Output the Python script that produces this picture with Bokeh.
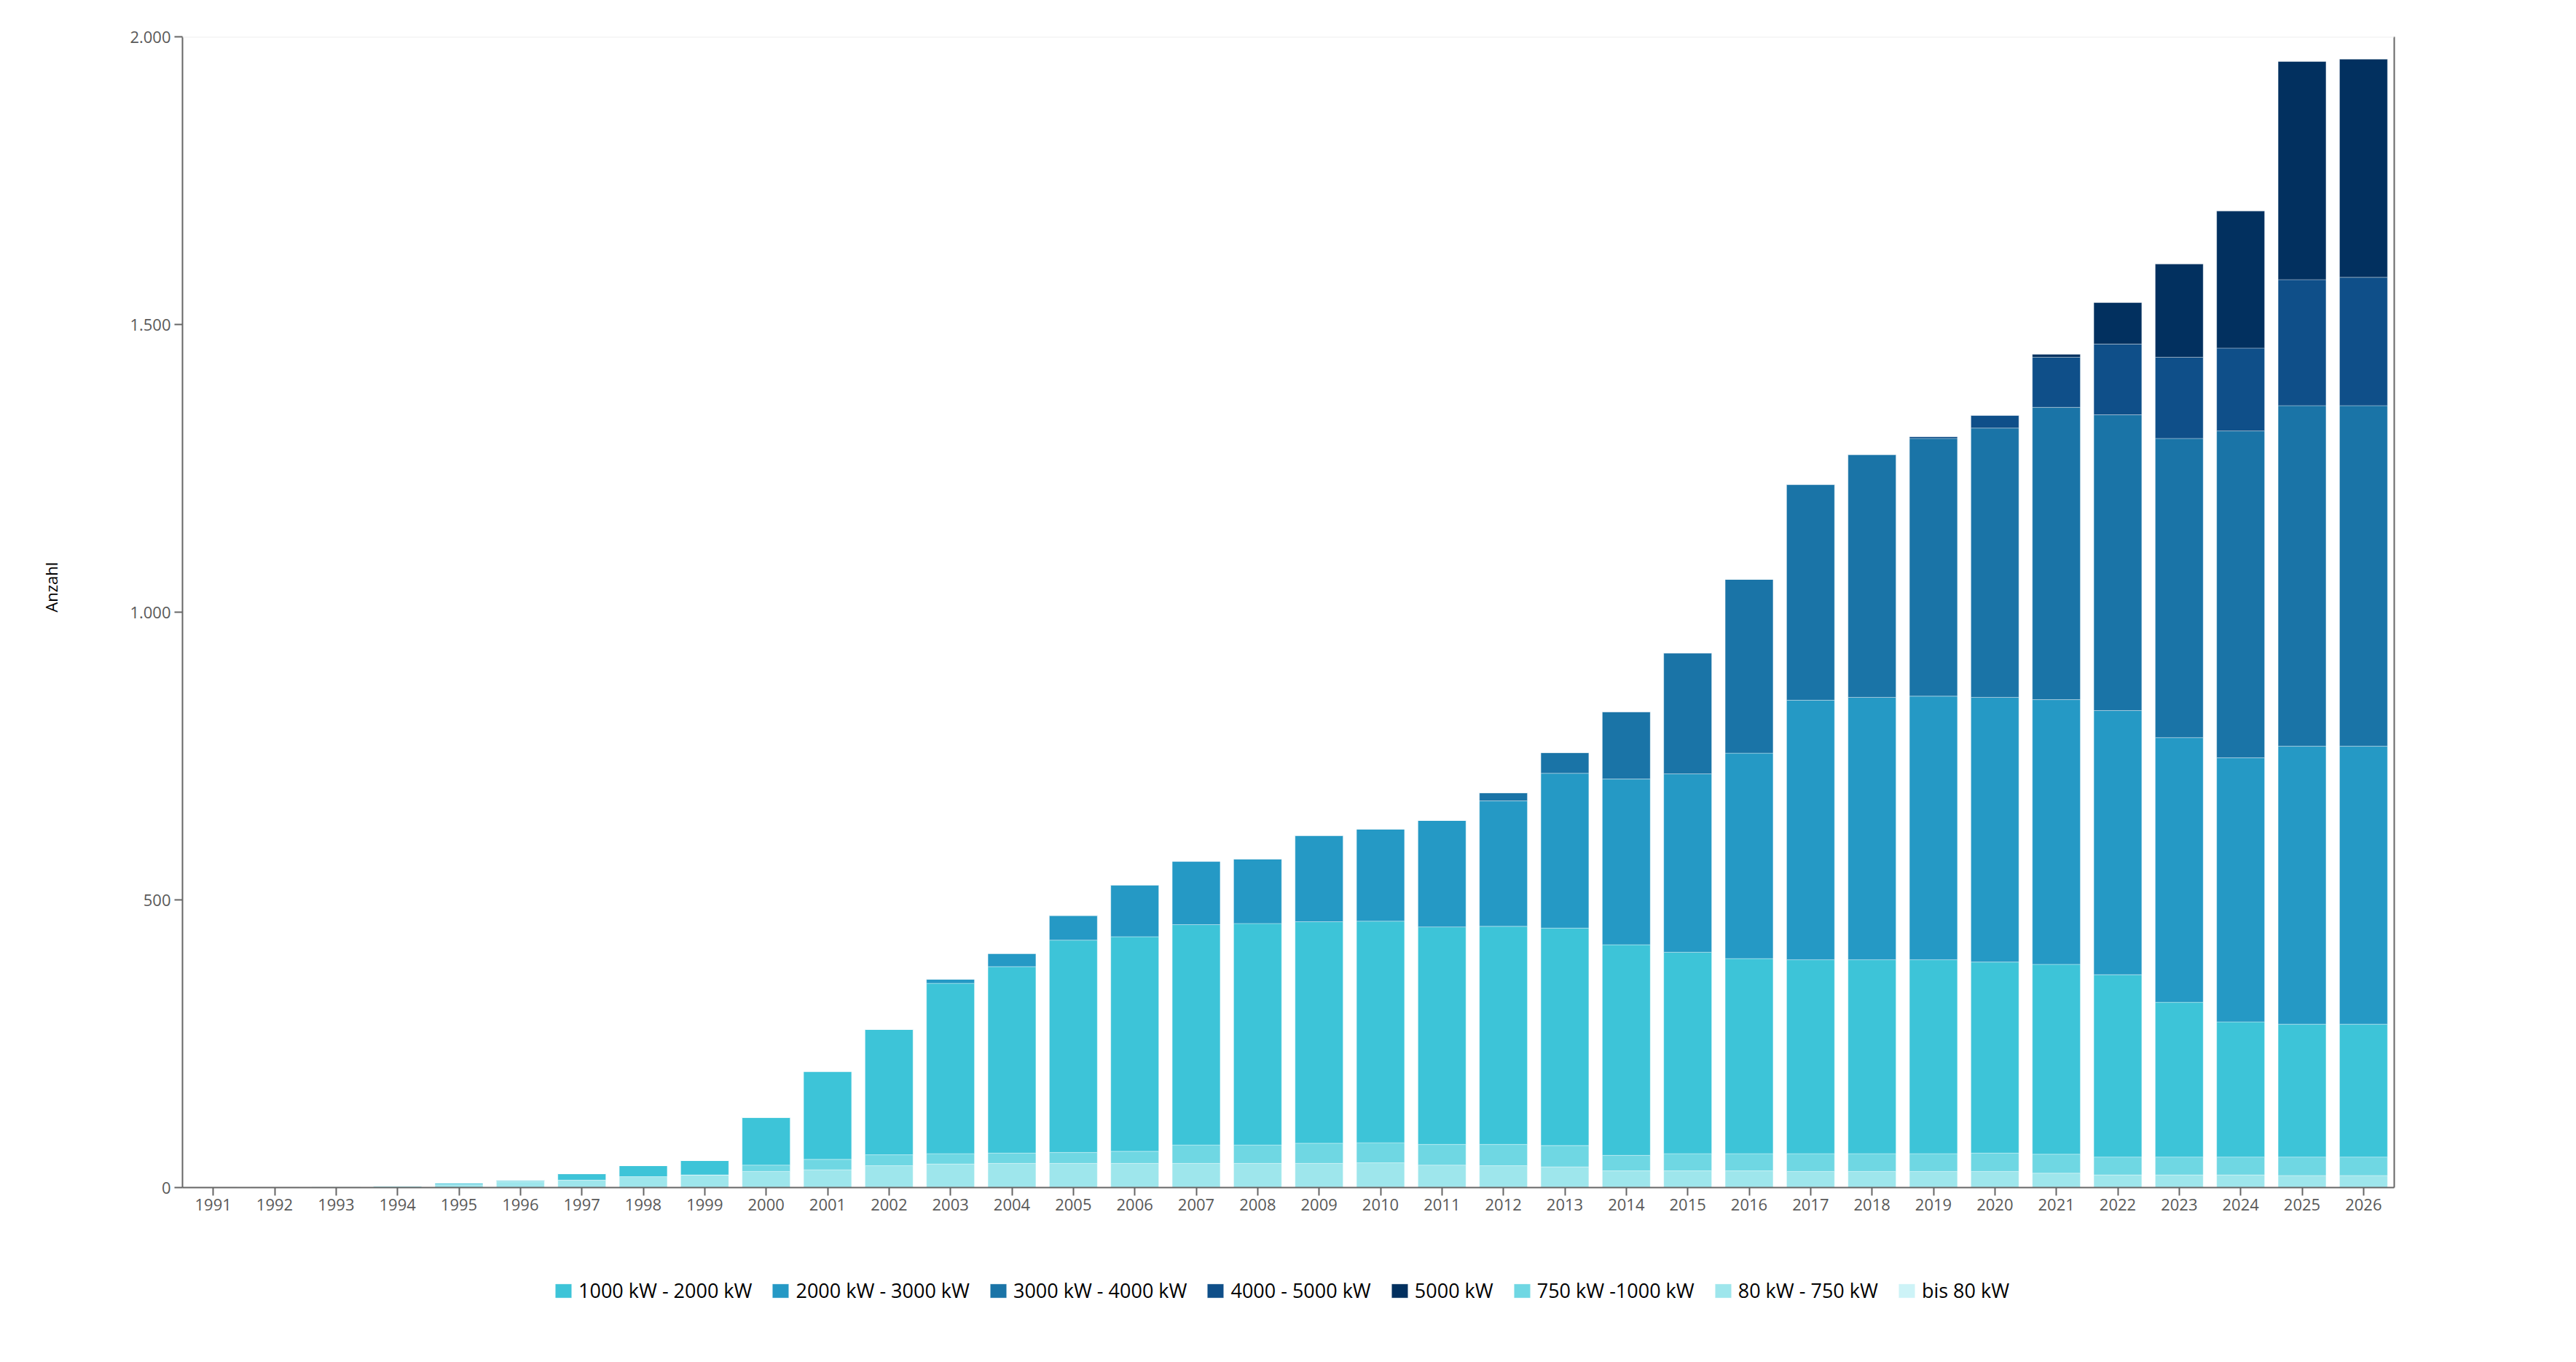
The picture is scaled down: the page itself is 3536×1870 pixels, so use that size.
from bokeh.plotting import figure
from bokeh.layouts import column
from bokeh.models import (FactorRange, Range1d, FixedTicker, LinearAxis, Legend,
                          LegendItem, Span, ColumnDataSource)
from bokeh.embed import file_html
from bokeh.resources import INLINE

years = [str(y) for y in range(1991, 2027)]

# values per power class (1991-2000 | 2001-2010 | 2011-2020 | 2021-2026)
bis_80 = [1, 1, 0, 0, 0, 0, 0, 0, 0, 0,
          0, 0, 0, 0, 0, 0, 0, 0, 0, 0,
          0, 0, 0, 0, 0, 0, 0, 0, 0, 0,
          0, 0, 0, 0, 0, 0]
kw_80_750 = [0, 0, 2, 3, 5, 11, 13, 19, 22, 28,
             31, 38, 41, 42, 42, 42, 42, 42, 42, 43,
             39, 38, 36, 29, 29, 29, 28, 28, 28, 28,
             25, 22, 22, 22, 21, 21]
kw_750_1000 = [0, 0, 0, 0, 0, 0, 0, 0, 0, 11,
               18, 19, 18, 18, 19, 21, 32, 32, 35, 35,
               36, 37, 37, 27, 30, 30, 31, 31, 31, 32,
               33, 31, 31, 31, 32, 32]
kw_1000_2000 = [0, 0, 0, 0, 3, 2, 11, 19, 25, 83,
                153, 218, 296, 324, 369, 373, 383, 385, 385, 385,
                378, 379, 378, 366, 350, 339, 337, 337, 337, 332,
                330, 317, 269, 235, 231, 231]
kw_2000_3000 = [0, 0, 0, 0, 0, 0, 0, 0, 0, 0,
                0, 0, 7, 23, 43, 90, 110, 112, 150, 160,
                185, 218, 269, 288, 310, 357, 451, 456, 458, 460,
                460, 459, 460, 459, 483, 483]
kw_3000_4000 = [0, 0, 0, 0, 0, 0, 0, 0, 0, 0,
                0, 0, 0, 0, 0, 0, 0, 0, 0, 0,
                0, 14, 36, 117, 210, 302, 375, 422, 448, 468,
                508, 514, 520, 568, 592, 592]
kw_4000_5000 = [0, 0, 0, 0, 0, 0, 0, 0, 0, 0,
                0, 0, 0, 0, 0, 0, 0, 0, 0, 0,
                0, 0, 0, 0, 0, 0, 0, 0, 3, 22,
                87, 123, 141, 144, 219, 223]
kw_5000 = [0, 0, 0, 0, 0, 0, 0, 0, 0, 0,
           0, 0, 0, 0, 0, 0, 0, 0, 0, 0,
           0, 0, 0, 0, 0, 0, 0, 0, 0, 0,
           5, 72, 162, 238, 379, 379]

keys = ["bis_80", "kw_80_750", "kw_750_1000", "kw_1000_2000",
        "kw_2000_3000", "kw_3000_4000", "kw_4000_5000", "kw_5000"]
labels = ["bis 80 kW", "80 kW - 750 kW", "750 kW -1000 kW", "1000 kW - 2000 kW",
          "2000 kW - 3000 kW", "3000 kW - 4000 kW", "4000 - 5000 kW", "5000 kW"]
colors = ["#cdf3f7", "#9ee6ec", "#6fd7e3", "#3dc4d8",
          "#2599c5", "#1a74a7", "#0f4f89", "#02305f"]
legend_order = [3, 4, 5, 6, 7, 2, 1, 0]

source = ColumnDataSource(dict(year=years, bis_80=bis_80, kw_80_750=kw_80_750,
                               kw_750_1000=kw_750_1000, kw_1000_2000=kw_1000_2000,
                               kw_2000_3000=kw_2000_3000, kw_3000_4000=kw_3000_4000,
                               kw_4000_5000=kw_4000_5000, kw_5000=kw_5000))

FONT = "Open Sans"
LEFT, RIGHT = 250, 240
TOTAL_W = LEFT + 3036 + RIGHT

p = figure(x_range=FactorRange(factors=years, range_padding=0),
           y_range=Range1d(0, 2000),
           frame_width=3036, frame_height=1580,
           output_backend="svg", toolbar_location=None,
           min_border_left=LEFT, min_border_right=RIGHT, min_border_top=50,
           min_border_bottom=50)
p.outline_line_color = None
p.xgrid.grid_line_color = None
p.ygrid.grid_line_color = None

renderers = p.vbar_stack(keys, x="year", width=0.78, color=colors, source=source,
                         line_color="white", line_alpha=0.35, line_width=1)

p.add_layout(Span(location=2000, dimension="width", line_color="#eeeeee", line_width=2))

# y axis
p.yaxis.ticker = FixedTicker(ticks=[0, 500, 1000, 1500, 2000])
p.yaxis.major_label_overrides = {0: "0", 500: "500", 1000: "1.000", 1500: "1.500", 2000: "2.000"}
# leading no-break spaces lift the visible word a little above the frame centre
p.yaxis.axis_label = "\u00a0" * 12 + "Anzahl"
p.yaxis.axis_label_text_font = FONT
p.yaxis.axis_label_text_font_size = "22px"
p.yaxis.axis_label_text_font_style = "normal"
p.yaxis.axis_label_text_color = "#000000"
p.yaxis.axis_label_standoff = 90
p.yaxis.minor_tick_line_color = None

for ax in (p.xaxis, p.yaxis):
    ax.axis_line_color = "#666666"
    ax.axis_line_width = 2
    ax.major_tick_line_color = "#666666"
    ax.major_tick_line_width = 2
    ax.major_tick_in = 0
    ax.major_tick_out = 11
    ax.major_label_text_font = FONT
    ax.major_label_text_font_size = "22px"
    ax.major_label_text_color = "#595959"
    ax.major_label_standoff = 5

p.xaxis.major_label_standoff = 4

right = LinearAxis(ticker=FixedTicker(ticks=[]), axis_line_color="#666666",
                   axis_line_width=2, major_tick_out=0, major_tick_in=0,
                   minor_tick_out=0, minor_tick_in=0,
                   major_label_text_font_size="0px")
p.add_layout(right, "right")

# legend figure below the chart (its frame is aligned with the chart's frame)
p2 = figure(width=TOTAL_W, height=184, x_range=Range1d(10, 11), y_range=Range1d(10, 11),
            x_axis_type=None, y_axis_type=None, output_backend="svg",
            toolbar_location=None, min_border_left=0, min_border_right=0,
            min_border_top=0, min_border_bottom=0)
p2.outline_line_color = None
p2.xgrid.grid_line_color = None
p2.ygrid.grid_line_color = None

items = []
for i in legend_order:
    r = p2.vbar(x=[0], top=[1], width=0.5, fill_color=colors[i],
                line_color="white", line_alpha=0.35, line_width=1)
    items.append(LegendItem(label=labels[i], renderers=[r]))

legend = Legend(items=items, orientation="horizontal", location=(509, 74),
                label_text_font=FONT, label_text_font_size="27px",
                label_text_color="#000000", glyph_width=28, glyph_height=24,
                label_standoff=7, spacing=25, padding=0, margin=0,
                border_line_color=None, background_fill_alpha=0)
p2.add_layout(legend)

layout = column(p, p2, spacing=0)
open("out.html", "w").write(file_html(layout, INLINE))
